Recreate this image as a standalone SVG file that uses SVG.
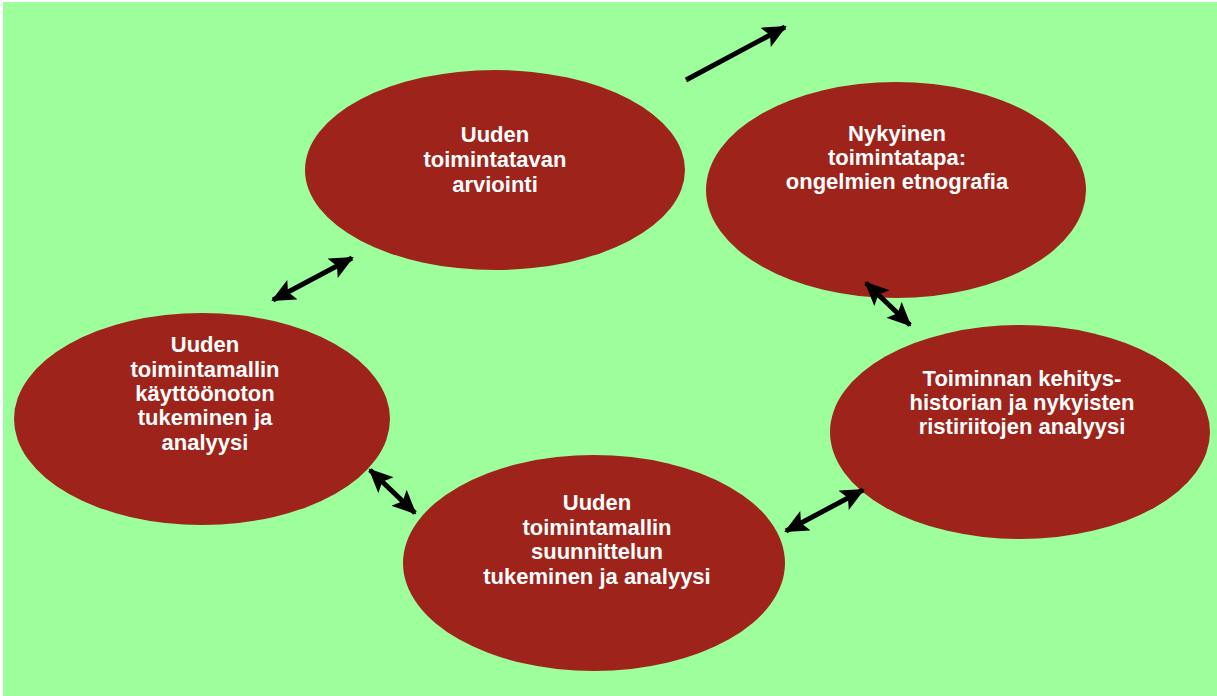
<svg xmlns="http://www.w3.org/2000/svg" width="1217" height="696" viewBox="0 0 1217 696">
  <style>
    .node { fill: #9e241b; }
    .label { fill: #ffffff; font-family: "Liberation Sans", Arial, sans-serif; font-weight: bold; font-size: 22px; text-anchor: middle; }
    .link { stroke: #000000; stroke-width: 5; fill: none; }
  </style>
  <defs>
    <marker id="head" viewBox="0 0 24 22" refX="22" refY="11" markerWidth="24" markerHeight="22" markerUnits="userSpaceOnUse" orient="auto-start-reverse">
      <path d="M0,0 L24,11 L0,22 L5,11 Z" fill="#000000"/>
    </marker>
  </defs>

  <!-- background -->
  <rect x="0" y="0" width="1217" height="696" fill="#ffffff"/>
  <rect x="3" y="2" width="1214" height="694" fill="#9dff9b"/>

  <g id="arviointi">
    <ellipse class="node" cx="495" cy="170" rx="190" ry="100"/>
    <text class="label" x="495" y="142">Uuden</text>
    <text class="label" x="495" y="167">toimintatavan</text>
    <text class="label" x="495" y="192">arviointi</text>
  </g>

  <g id="nykyinen">
    <ellipse class="node" cx="896" cy="190" rx="190" ry="108"/>
    <text class="label" x="897" y="141">Nykyinen</text>
    <text class="label" x="897" y="165">toimintatapa:</text>
    <text class="label" x="897" y="189">ongelmien etnografia</text>
  </g>

  <g id="historia">
    <ellipse class="node" cx="1020" cy="432" rx="190" ry="107"/>
    <text class="label" x="1022" y="386">Toiminnan kehitys-</text>
    <text class="label" x="1022" y="410">historian ja nykyisten</text>
    <text class="label" x="1022" y="434">ristiriitojen analyysi</text>
  </g>

  <g id="suunnittelu">
    <ellipse class="node" cx="594" cy="563" rx="191" ry="108"/>
    <text class="label" x="597" y="510">Uuden</text>
    <text class="label" x="597" y="535">toimintamallin</text>
    <text class="label" x="597" y="559">suunnittelun</text>
    <text class="label" x="597" y="584">tukeminen ja analyysi</text>
  </g>

  <g id="kayttoonotto">
    <ellipse class="node" cx="202" cy="419" rx="188" ry="106"/>
    <text class="label" x="205" y="352">Uuden</text>
    <text class="label" x="205" y="377">toimintamallin</text>
    <text class="label" x="205" y="401">käyttöönoton</text>
    <text class="label" x="205" y="425">tukeminen ja</text>
    <text class="label" x="205" y="450">analyysi</text>
  </g>

  <g id="connectors">
    <line class="link" x1="686" y1="80" x2="785" y2="27" marker-end="url(#head)"/>
    <line class="link" x1="273" y1="300" x2="352" y2="258" marker-start="url(#head)" marker-end="url(#head)"/>
    <line class="link" x1="866" y1="283" x2="910" y2="325" marker-start="url(#head)" marker-end="url(#head)"/>
    <line class="link" x1="370" y1="470" x2="415" y2="513" marker-start="url(#head)" marker-end="url(#head)"/>
    <line class="link" x1="786" y1="531" x2="863" y2="490" marker-start="url(#head)" marker-end="url(#head)"/>
  </g>
</svg>
